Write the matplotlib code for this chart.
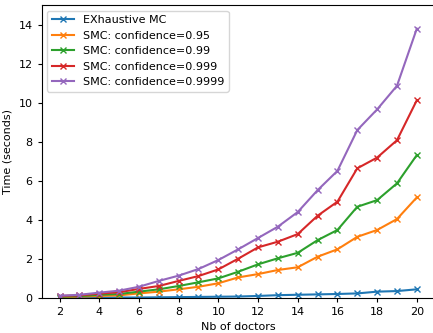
import matplotlib
matplotlib.use("Agg")
import matplotlib.pyplot as plt

doctors = list(range(2, 21))
exhaustive = [0.0, 0.0, 0.0, 0.01, 0.01, 0.02, 0.03, 0.04, 0.05, 0.06, 0.09, 0.13, 0.15, 0.17, 0.19, 0.22, 0.31, 0.34, 0.43]
conf_95 = [0.03, 0.05, 0.09, 0.12, 0.22, 0.31, 0.43, 0.56, 0.74, 1.04, 1.21, 1.42, 1.56, 2.10, 2.48, 3.12, 3.47, 4.03, 5.14]
conf_99 = [0.05, 0.08, 0.15, 0.19, 0.31, 0.43, 0.60, 0.79, 0.99, 1.33, 1.71, 2.02, 2.30, 2.95, 3.47, 4.66, 5.00, 5.86, 7.31]
conf_999 = [0.09, 0.12, 0.21, 0.28, 0.45, 0.60, 0.86, 1.11, 1.45, 2.00, 2.58, 2.87, 3.26, 4.20, 4.92, 6.63, 7.18, 8.07, 10.12]
conf_9999 = [0.10, 0.15, 0.26, 0.36, 0.56, 0.86, 1.13, 1.47, 1.93, 2.48, 3.06, 3.64, 4.39, 5.51, 6.50, 8.59, 9.65, 10.86, 13.79]

series = [
    ("EXhaustive MC", exhaustive),
    ("SMC: confidence=0.95", conf_95),
    ("SMC: confidence=0.99", conf_99),
    ("SMC: confidence=0.999", conf_999),
    ("SMC: confidence=0.9999", conf_9999),
]

plt.rcParams["font.size"] = 8
plt.rcParams["axes.linewidth"] = 0.8
plt.rcParams["xtick.major.size"] = 3
plt.rcParams["ytick.major.size"] = 3

fig = plt.figure(figsize=(4.33, 3.33), dpi=100)
ax = fig.add_axes([0.0963, 0.106, 0.9076, 0.879])
for label, vals in series:
    ax.plot(doctors, vals, marker="x", linewidth=1.5, markersize=5, label=label)
ax.set_ylim(0, 15)
ax.set_xticks([2, 4, 6, 8, 10, 12, 14, 16, 18, 20])
ax.set_yticks([0, 2, 4, 6, 8, 10, 12, 14])
ax.set_xlabel("Nb of doctors")
ax.set_ylabel("Time (seconds)")
ax.legend(loc="upper left")
fig.savefig("out.png", dpi=100)
